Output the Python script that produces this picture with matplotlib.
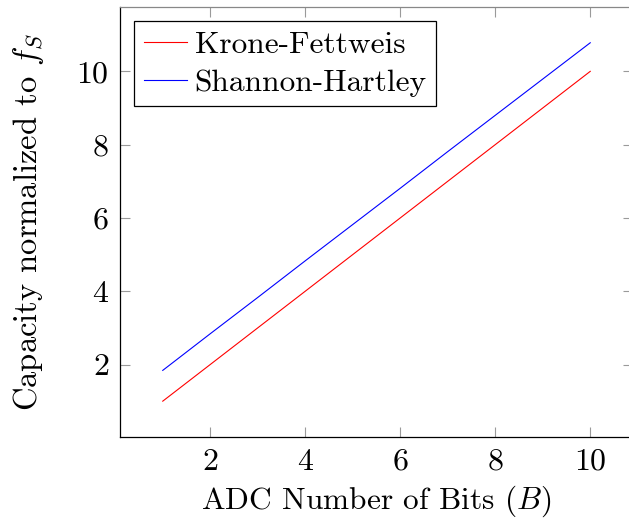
import matplotlib
matplotlib.use("Agg")
import matplotlib.pyplot as plt

bits = [1, 2, 3, 4, 5, 6, 7, 8, 9, 10]
krone_fettweis = [1.0, 2.0, 3.0, 4.0, 5.0, 6.0, 7.0, 8.0, 9.0, 10.0]
shannon_hartley = [1.84, 2.84, 3.83, 4.83, 5.82, 6.81, 7.81, 8.80, 9.79, 10.78]
x_ticks = [2, 4, 6, 8, 10]
y_ticks = [2, 4, 6, 8, 10]

plt.rcParams['font.family'] = 'serif'
plt.rcParams['font.serif'] = ['cmr10']
plt.rcParams['mathtext.fontset'] = 'cm'
plt.rcParams['axes.formatter.use_mathtext'] = True

fig = plt.figure(figsize=(6.29, 5.19), dpi=100)
ax = fig.add_axes([120/629, 1-437/519, (633-120)/629, (437-7)/519])

ax.plot(bits, krone_fettweis, color='#ff0000', lw=0.8, label='Krone-Fettweis')
ax.plot(bits, shannon_hartley, color='#0000ff', lw=0.8, label='Shannon-Hartley')

ax.set_xlim(0.1, 10.9)
ax.set_ylim(0.022, 11.756)
ax.set_xticks(x_ticks)
ax.set_yticks(y_ticks)
ax.tick_params(direction='in', length=7.5, width=0.8, color='#9a9a9a',
               top=True, right=True, labelsize=23, pad=8)
for s in ax.spines.values():
    s.set_linewidth(0.9)
    s.set_color('black')
ax.spines['top'].set_color('#888888')
ax.spines['right'].set_visible(False)

ax.set_xlabel('ADC Number of Bits ($B$)', fontsize=22.6, labelpad=6)
ax.set_ylabel('Capacity normalized to $f_S$', fontsize=23.5, labelpad=22)

leg = ax.legend(loc='upper left', fontsize=22.6, frameon=True, fancybox=False,
                edgecolor='black', framealpha=1, handlelength=1.4,
                handletextpad=0.23, borderpad=0.3, labelspacing=0.33,
                borderaxespad=0.45)
leg.get_frame().set_linewidth(0.9)

fig.savefig('out.png', dpi=100)
